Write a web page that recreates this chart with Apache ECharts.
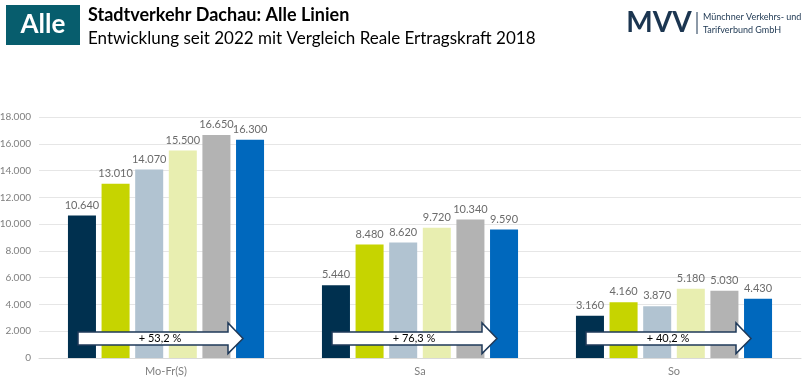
<!DOCTYPE html>
<html><head><meta charset="utf-8">
<script src="https://cdn.jsdelivr.net/npm/echarts@6/dist/echarts.min.js"></script>
<style>html,body{margin:0;padding:0;background:#fff}#c{width:810px;height:383px}</style>
</head><body><div id="c"></div>
<script>
const categories = ['Mo-Fr(S)', 'Sa', 'So'];
const seriesNames = ['Reale Ertragskraft 2018', '2022', '2023', '2024', '2025', 'Prognose'];
const s1 = [10640, 5440, 3160];
const s2 = [13010, 8480, 4160];
const s3 = [14070, 8620, 3870];
const s4 = [15500, 9720, 5180];
const s5 = [16650, 10340, 5030];
const s6 = [16300, 9590, 4430];
const growthLabels = ['+ 53,2 %', '+ 76,3 %', '+ 40,2 %'];
const yTicks = [0, 2000, 4000, 6000, 8000, 10000, 12000, 14000, 16000, 18000];
const colors = ['#00304f', '#c6d400', '#b1c3d1', '#e8eeb0', '#b3b3b3', '#0068bd'];
const FONT = 'Lato, "Open Sans", sans-serif';

function fmt(v){ return String(v).replace(/\B(?=(\d{3})+(?!\d))/g, '.'); }

const chart = echarts.init(document.getElementById('c'), null, {renderer:'canvas'});
const allSeries = [s1, s2, s3, s4, s5, s6];
const option = {
  animation: false,
  textStyle: {fontFamily: FONT},
  grid: {left: 39, right: 9, top: 117, bottom: 25, containLabel: false, outerBoundsMode: 'none'},
  xAxis: {
    type: 'category', data: categories,
    axisLine: {lineStyle: {color: '#d9d9d9'}},
    axisTick: {show: false},
    axisLabel: {color: '#7f7f7f', fontSize: 11, fontFamily: FONT, margin: 8}
  },
  yAxis: {
    type: 'value', min: yTicks[0], max: yTicks[yTicks.length-1], interval: 2000,
    axisLine: {show: false}, axisTick: {show: false},
    splitLine: {lineStyle: {color: '#e6e6e6'}},
    axisLabel: {color: '#7f7f7f', fontSize: 10, fontFamily: FONT, margin: 8, formatter: fmt}
  },
  series: allSeries.map((d, i) => ({
    type: 'bar', name: seriesNames[i], data: d,
    barGap: '20%', barCategoryGap: '22.8%',
    itemStyle: {color: colors[i]},
    label: {show: true, position: 'top', distance: 5, color: '#6b6b6b', fontSize: 11, fontFamily: FONT, formatter: p => fmt(p.value)}
  }))
};
chart.setOption(option);

const g = [
  {type:'rect', shape:{x:6, y:5, width:74, height:40}, style:{fill:'#075d6d'}},
  {type:'text', x:43, y:25, style:{text:'Alle', fill:'#fff', font:'bold 26px ' + FONT, align:'center', verticalAlign:'middle'}},
  {type:'text', x:88, y:15, style:{text:'Stadtverkehr Dachau: Alle Linien', fill:'#000', font:'bold 18px ' + FONT, verticalAlign:'middle'}},
  {type:'text', x:88, y:39, style:{text:'Entwicklung seit 2022 mit Vergleich Reale Ertragskraft 2018', fill:'#000', font:'17px ' + FONT, verticalAlign:'middle'}},
  {type:'text', x:659, y:23, style:{text:'MVV', fill:'#1b3550', font:'bold 28px ' + FONT, align:'center', verticalAlign:'middle'}},
  {type:'line', shape:{x1:697, y1:12, x2:697, y2:34}, style:{stroke:'#1b3550', lineWidth:1}},
  {type:'text', x:703, y:17, style:{text:'Münchner Verkehrs- und', fill:'#1b3550', font:'9px ' + FONT, verticalAlign:'middle'}},
  {type:'text', x:703, y:30, style:{text:'Tarifverbund GmbH', fill:'#1b3550', font:'9px ' + FONT, verticalAlign:'middle'}}
];
categories.forEach((c, i) => {
  const cx = chart.convertToPixel({xAxisIndex:0}, c);
  const yb1 = chart.convertToPixel({yAxisIndex:0}, 1950);
  const yb2 = chart.convertToPixel({yAxisIndex:0}, 970);
  const yh1 = chart.convertToPixel({yAxisIndex:0}, 2620);
  const yh2 = chart.convertToPixel({yAxisIndex:0}, 330);
  const ym = (yb1 + yb2) / 2;
  const x0 = cx - 88, xb = cx + 62, xt = cx + 77;
  g.push({type:'polygon', shape:{points:[[x0,yb1],[xb,yb1],[xb,yh1],[xt,ym],[xb,yh2],[xb,yb2],[x0,yb2]]},
    style:{fill:'#ffffff', stroke:'#1f3a5a', lineWidth:1.5}, z:100});
  g.push({type:'text', x:cx - 6, y:ym, z:101, style:{text:growthLabels[i], fill:'#000', font:'11px ' + FONT, align:'center', verticalAlign:'middle'}});
});
chart.setOption({graphic: g});
</script>
</body></html>
